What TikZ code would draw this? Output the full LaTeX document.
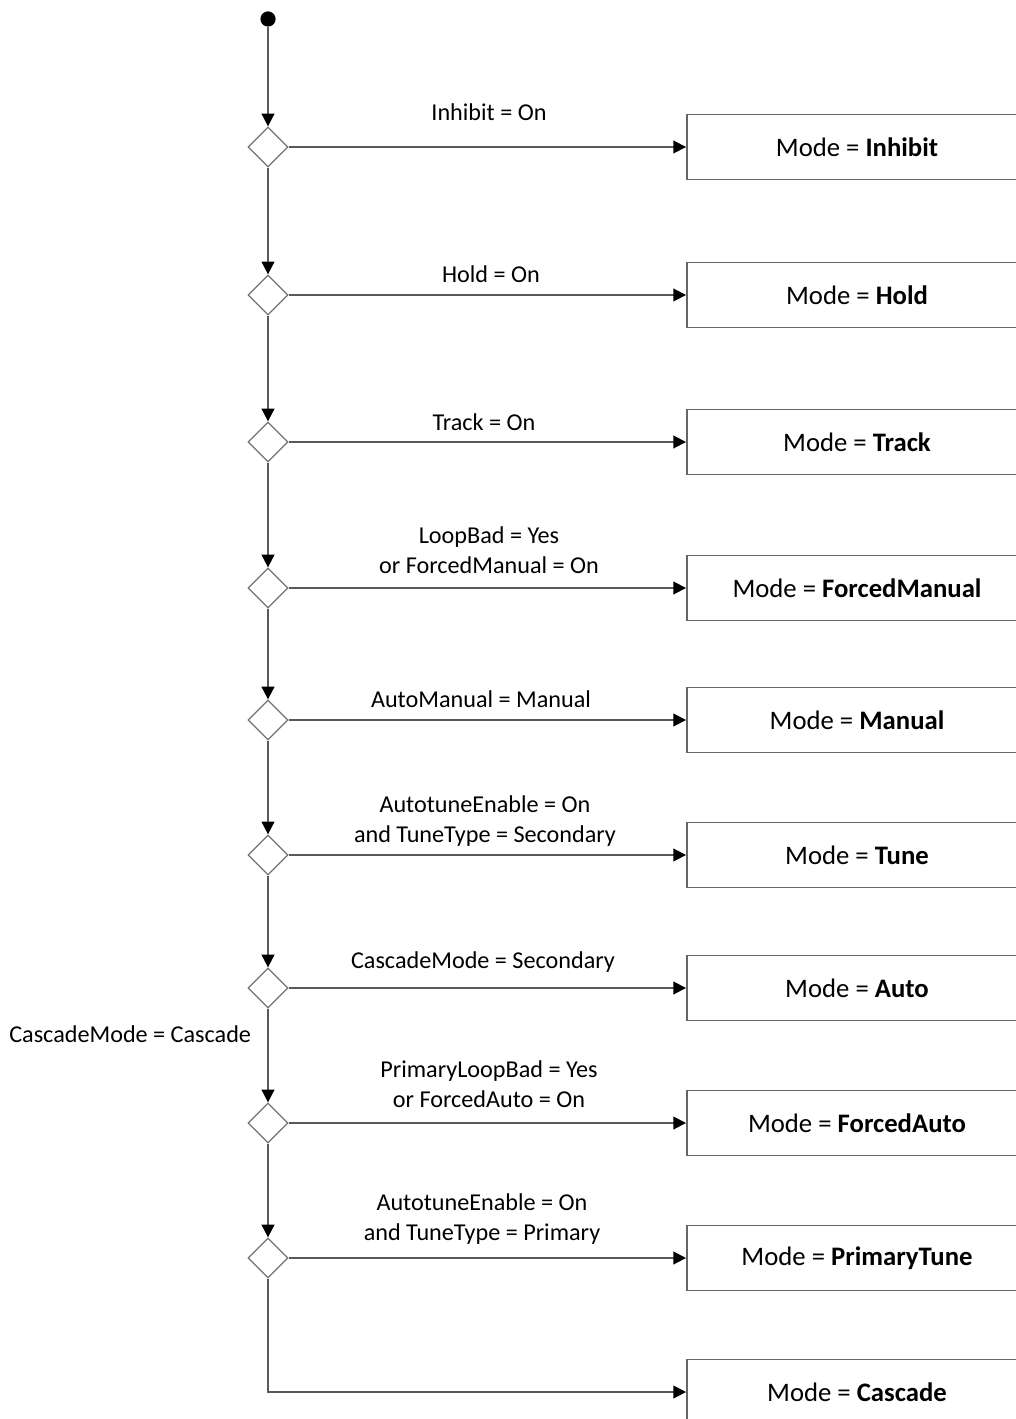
\documentclass[tikz,border=0pt]{standalone}
\usepackage{fontspec}
\setmainfont{Carlito}
\usepackage{tikz}
\usetikzlibrary{shapes.geometric, arrows.meta}
\usetikzlibrary{positioning}
\tikzset{
  mode/.style={draw=black!60, line width=1.3pt, rectangle, minimum width=8.5cm, minimum height=1.625cm, font=\fontsize{19}{22}\selectfont},
  choice/.style={draw=black!55, line width=0.9pt, diamond, minimum size=1cm, inner sep=0pt},
  start/.style={circle, fill=black, minimum size=0.38cm, inner sep=0pt},
  cond/.style={align=center, font=\fontsize{17.2}{21.3}\selectfont},
  flow/.style={draw=black!65, line width=1.3pt, -{Triangle[length=9pt, width=9pt, black]}}
}

\begin{document}
\begin{tikzpicture}[x=0.025cm, y=-0.025cm]
    \clip (0,0) rectangle (1016,1419);
    % nodes
    \node (Start) [start] at (268,19) {};
    \node (D1) [choice] at (268,147) {};
    \node (D2) [choice] at (268,295) {};
    \node (D3) [choice] at (268,442) {};
    \node (D4) [choice] at (268,588) {};
    \node (D5) [choice] at (268,720) {};
    \node (D6) [choice] at (268,855) {};
    \node (D7) [choice] at (268,988) {};
    \node (D8) [choice] at (268,1123) {};
    \node (D9) [choice] at (268,1258) {};
    \node (Inhibit)     [mode] at (857,147)  {Mode = \textbf{Inhibit}};
    \node (Hold)        [mode] at (857,295)  {Mode = \textbf{Hold}};
    \node (Track)       [mode] at (857,442)  {Mode = \textbf{Track}};
    \node (ForcedMan)   [mode] at (857,588)  {Mode = \textbf{ForcedManual}};
    \node (Manual)      [mode] at (857,720)  {Mode = \textbf{Manual}};
    \node (Tune)        [mode] at (857,855)  {Mode = \textbf{Tune}};
    \node (Auto)        [mode] at (857,988)  {Mode = \textbf{Auto}};
    \node (ForcedAuto)  [mode] at (857,1123) {Mode = \textbf{ForcedAuto}};
    \node (PrimaryTune) [mode] at (857,1258) {Mode = \textbf{PrimaryTune}};
    \node (Cascade)     [mode] at (857,1392) {Mode = \textbf{Cascade}};
    % conditions
    \node (cInhibit) [cond] at (489,112)  {Inhibit = On};
    \node (cHold)    [cond] at (491,274)  {Hold = On};
    \node (cTrack)   [cond] at (484,422)  {Track = On};
    \node (cLoopBad) [cond] at (489,550)  {LoopBad = Yes\\or ForcedManual = On};
    \node (cManual)  [cond] at (481,699)  {AutoManual = Manual};
    \node (cTune)    [cond] at (485,821)  {AutotuneEnable = On\\and TuneType = Secondary};
    \node (cAuto)    [cond] at (483,962)  {CascadeMode = Secondary};
    \node (cPrimBad) [cond] at (489,1084) {PrimaryLoopBad = Yes\\or ForcedAuto = On};
    \node (cPrimTune)[cond] at (482,1219) {AutotuneEnable = On\\and TuneType = Primary};
    \node (cCascade) [cond, anchor=east] at (256,1034) {CascadeMode = Cascade};
    % arrows
    \draw [flow] (Start) -- (D1.north);
    \draw [flow] (D1.south) -- (D2.north);
    \draw [flow] (D2.south) -- (D3.north);
    \draw [flow] (D3.south) -- (D4.north);
    \draw [flow] (D4.south) -- (D5.north);
    \draw [flow] (D5.south) -- (D6.north);
    \draw [flow] (D6.south) -- (D7.north);
    \draw [flow] (D7.south) -- (D8.north);
    \draw [flow] (D8.south) -- (D9.north);
    \draw [flow] (D1.east) -- (Inhibit.west);
    \draw [flow] (D2.east) -- (Hold.west);
    \draw [flow] (D3.east) -- (Track.west);
    \draw [flow] (D4.east) -- (ForcedMan.west);
    \draw [flow] (D5.east) -- (Manual.west);
    \draw [flow] (D6.east) -- (Tune.west);
    \draw [flow] (D7.east) -- (Auto.west);
    \draw [flow] (D8.east) -- (ForcedAuto.west);
    \draw [flow] (D9.east) -- (PrimaryTune.west);
    \draw [flow] (D9.south) |- (Cascade.west);
\end{tikzpicture}
\end{document}
